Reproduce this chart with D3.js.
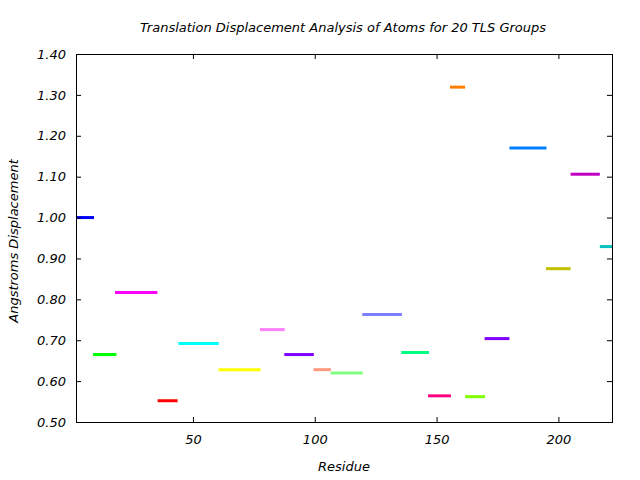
<!DOCTYPE html>
<html>
<head>
<meta charset="utf-8">
<script src="https://cdn.jsdelivr.net/npm/d3@7"></script>
<style>
  body { margin: 0; background: #fff; }
  text { font-family: "DejaVu Sans", sans-serif; font-style: italic; font-size: 13px; fill: #000; }
</style>
</head>
<body>
<svg id="chart" width="640" height="480"></svg>
<script>
const groupStart = [2, 9, 18, 35.5, 44, 60.5, 77.5, 87.5, 99.5, 106.5, 119.5, 135.5, 146.5, 155.5, 161.7, 169.7, 179.9, 194.9, 205, 217];
const groupEnd   = [9.4, 18.6, 35.4, 43.7, 60.6, 77.8, 87.7, 99.6, 106.6, 119.7, 135.8, 146.9, 155.9, 161.7, 169.9, 179.9, 195.1, 205, 217, 222];
const displacement = [1.000, 0.665, 0.817, 0.552, 0.692, 0.628, 0.726, 0.665, 0.628, 0.620, 0.763, 0.670, 0.564, 1.319, 0.562, 0.704, 1.170, 0.875, 1.106, 0.929];
const groupColors = ["#0000ff", "#00ff00", "#ff00ff", "#ff0000", "#00ffff", "#ffff00", "#ff80ff", "#8000ff", "#ff9980", "#80ff80",
                     "#8080ff", "#00ff80", "#ff0080", "#ff8000", "#80ff00", "#8000ff", "#0080ff", "#c0c000", "#c000c0", "#00c0c0"];
const xTicks = [50, 100, 150, 200];
const yTicks = [0.5, 0.6, 0.7, 0.8, 0.9, 1.0, 1.1, 1.2, 1.3, 1.4];

const svg = d3.select("#chart");
const L = 76, R = 612, T = 54, B = 422;
const x = d3.scaleLinear().domain([2, 222]).range([L, R]);
const y = d3.scaleLinear().domain([0.5, 1.4]).range([B, T]);

svg.append("g").selectAll("line").data(displacement).join("line")
  .attr("x1", (d, i) => x(groupStart[i]))
  .attr("x2", (d, i) => x(groupEnd[i]))
  .attr("y1", d => y(d)).attr("y2", d => y(d))
  .attr("stroke", (d, i) => groupColors[i])
  .attr("stroke-width", 3);

const tl = 5;
const axB = d3.axisBottom(x).tickValues(xTicks).tickSizeInner(-tl).tickSizeOuter(0).tickPadding(13).tickFormat(d3.format("d"));
const axT = d3.axisTop(x).tickValues(xTicks).tickSizeInner(-tl).tickSizeOuter(0).tickFormat("");
const axL = d3.axisLeft(y).tickValues(yTicks).tickSizeInner(-tl).tickSizeOuter(0).tickPadding(10).tickFormat(d3.format(".2f"));
const axR = d3.axisRight(y).tickValues(yTicks).tickSizeInner(-tl).tickSizeOuter(0).tickFormat("");

function style(g) {
  g.select(".domain").remove();
  g.selectAll("line").attr("stroke", "#000").attr("stroke-width", 1);
  g.selectAll("text").attr("font-family", "DejaVu Sans").attr("font-style", "italic").attr("font-size", 12.5);
}
svg.append("g").attr("transform", `translate(0,${B})`).call(axB).call(style);
svg.append("g").attr("transform", `translate(0,${T})`).call(axT).call(style);
svg.append("g").attr("transform", `translate(${L},0)`).call(axL).call(style);
svg.append("g").attr("transform", `translate(${R},0)`).call(axR).call(style);

svg.append("rect").attr("x", L + 0.5).attr("y", T + 0.5).attr("width", R - L).attr("height", B - T)
  .attr("fill", "none").attr("stroke", "#000").attr("stroke-width", 1);

svg.append("text").attr("x", (L + R) / 2 - 1).attr("y", 32).attr("text-anchor", "middle")
  .text("Translation Displacement Analysis of Atoms for 20 TLS Groups");
svg.append("text").attr("x", (L + R) / 2).attr("y", 471).attr("text-anchor", "middle").text("Residue");
svg.append("text").attr("transform", `translate(18,${(T + B) / 2 + 3}) rotate(-90)`).attr("text-anchor", "middle")
  .text("Angstroms Displacement");
</script>
</body>
</html>
